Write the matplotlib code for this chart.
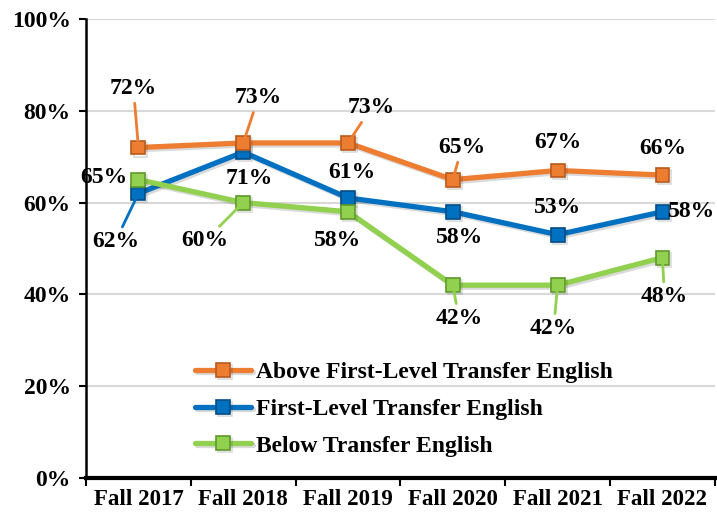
import matplotlib
matplotlib.use('Agg')
import matplotlib.pyplot as plt
import matplotlib.patheffects as pe

terms = ['Fall 2017', 'Fall 2018', 'Fall 2019', 'Fall 2020', 'Fall 2021', 'Fall 2022']
above = [72, 73, 73, 65, 67, 66]
first_level = [62, 71, 61, 58, 53, 58]
below = [65, 60, 58, 42, 42, 48]

names = ['Above First-Level Transfer English', 'First-Level Transfer English',
         'Below Transfer English']

ORANGE = '#ED7D31'
BLUE = '#0070C0'
GREEN = '#92D050'

# label offsets in pixels (dx, dy) and whether a leader line is drawn
off_above = [(-5, 59, True), (15, 45, True), (23, 35, True), (9, 32, True), (0, 28, False), (0, 27, False)]
off_first = [(-23, -48, True), (6, -26, False), (4, 25, False), (7, -26, False), (0, 27, False), (29, 0, False)]
off_below = [(-35, 2, False), (-38, -38, True), (-10, -29, False), (6, -33, True), (-4, -43, True), (2, -39, True)]

plt.rcParams['font.family'] = ['Liberation Serif', 'DejaVu Serif']
plt.rcParams['font.weight'] = 'bold'

fig = plt.figure(figsize=(7.17, 5.16), dpi=100)
ax = fig.add_axes([0.12, 0.074, 0.877, 0.889])

x = list(range(len(terms)))
shadow = [pe.SimpleLineShadow(offset=(1.5, -1.5), alpha=0.18, shadow_color='#333333'), pe.Normal()]

series = [(above, ORANGE, '#B85A1C', off_above, 5),
          (first_level, BLUE, '#004C86', off_first, 3),
          (below, GREEN, '#5E9A2A', off_below, 4)]
handles = []
for (vals, col, edge, offs, z), name in zip(series, names):
    h, = ax.plot(x, vals, color=col, lw=3.8, marker='s', markersize=10,
                 markerfacecolor=col, markeredgecolor=edge, markeredgewidth=1.2,
                 label=name, zorder=z, path_effects=shadow, solid_capstyle='round')
    handles.append(h)
    for xi, v, (dx, dy, lead) in zip(x, vals, offs):
        ap = dict(arrowstyle='-', color=col, lw=2, shrinkA=1, shrinkB=2) if lead else None
        ax.annotate(f'{v}%', (xi, v), xytext=(dx, dy), textcoords='offset pixels',
                    ha='center', va='center', fontsize=17, fontweight='bold',
                    arrowprops=ap, zorder=6)

ax.set_xlim(-0.5, len(terms) - 0.5)
ax.set_ylim(0, 100)
ax.set_yticks(range(0, 101, 20))
ax.set_yticklabels([f'{t}%' for t in range(0, 101, 20)], fontsize=17, fontweight='bold')
ax.set_xticks(x)
ax.set_xticklabels(terms, fontsize=16.5, fontweight='bold')
ax.set_xticks([i - 0.5 for i in range(len(terms) + 1)], minor=True)
ax.tick_params(axis='x', which='major', length=0, pad=8)
ax.tick_params(axis='x', which='minor', length=6, width=1.5, direction='out')
ax.tick_params(axis='y', length=5, width=1.5, pad=6)

ax.grid(axis='y', color='#D9D9D9', lw=1.5, zorder=0)
ax.set_axisbelow(True)
for s in ['top', 'right']:
    ax.spines[s].set_visible(False)
ax.spines['left'].set_linewidth(1.8)
ax.spines['bottom'].set_linewidth(3)

ax.legend(handles=handles, loc='lower left', bbox_to_anchor=(0.139, 0.0),
          frameon=False, handlelength=2.4, labelspacing=0.64,
          handletextpad=0.2, prop={'weight': 'bold', 'size': 17})

fig.savefig('out.png', dpi=100, facecolor='white')
